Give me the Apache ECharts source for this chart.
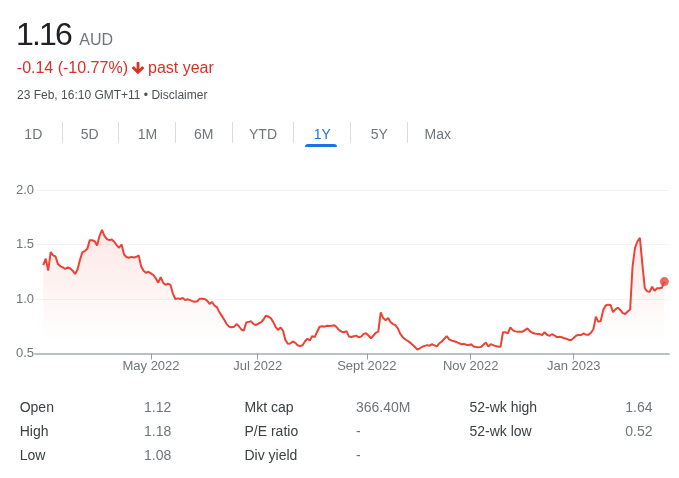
<!DOCTYPE html>
<html>
<head>
<meta charset="utf-8">
<script src="https://cdn.jsdelivr.net/npm/echarts@6/dist/echarts.min.js"></script>
<style>
  html, body { margin:0; padding:0; background:#fff; }
  body { width:679px; height:478px; position:relative; overflow:hidden; font-family: Arial, "Liberation Sans", sans-serif; }
  #chart { position:absolute; left:0; top:0; width:679px; height:478px; }
  .t { position:absolute; white-space:nowrap; line-height:1; }
  .sep { position:absolute; top:122px; width:1px; height:21px; background:#dadce0; }
  .tab { position:absolute; width:50px; text-align:center; font-size:14px; color:#70757a; top:126.5px; line-height:1; }
</style>
</head>
<body>
<div id="chart"></div>

<div class="t" style="left:16px; top:17.9px; font-size:32px; color:#202124; letter-spacing:-1.8px;">1.16</div>
<div class="t" style="left:79.3px; top:32.2px; font-size:16px; color:#70757a;">AUD</div>
<div class="t" style="left:16.8px; top:59.8px; font-size:16px; color:#d93025;">-0.14 (-10.77%)</div>
<svg style="position:absolute; left:130px; top:59.5px;" width="16" height="16" viewBox="0 0 24 24"><path fill="#d93025" d="M20 12l-1.41-1.41L13 16.17V4h-2v12.17l-5.58-5.59L4 12l8 8 8-8z" stroke="#d93025" stroke-width="2.2" stroke-linejoin="round"/></svg>
<div class="t" style="left:148px; top:59.8px; font-size:16px; color:#d93025;">past year</div>
<div class="t" style="left:17px; top:88.8px; font-size:12px; color:#4d5156;">23 Feb, 16:10 GMT+11 • Disclaimer</div>

<div class="tab" style="left:8.3px;">1D</div>
<div class="tab" style="left:64.7px;">5D</div>
<div class="tab" style="left:122.5px;">1M</div>
<div class="tab" style="left:178.8px;">6M</div>
<div class="tab" style="left:238px;">YTD</div>
<div class="tab" style="left:297.2px; color:#1a73e8;">1Y</div>
<div class="tab" style="left:354.2px;">5Y</div>
<div class="tab" style="left:412.8px;">Max</div>
<div class="sep" style="left:61.5px;"></div>
<div class="sep" style="left:118px;"></div>
<div class="sep" style="left:175px;"></div>
<div class="sep" style="left:232px;"></div>
<div class="sep" style="left:293px;"></div>
<div class="sep" style="left:350px;"></div>
<div class="sep" style="left:407px;"></div>
<div style="position:absolute; left:305px; top:144px; width:32px; height:3px; background:#1a73e8; border-radius:3px 3px 0 0;"></div>

<div id="stats"></div>

<script>
// ---- data ----
const prices = [
  1.31, 1.37, 1.26, 1.43, 1.40, 1.39, 1.32, 1.30, 1.29, 1.275,
  1.29, 1.28, 1.26, 1.23, 1.27, 1.36, 1.43, 1.44, 1.46, 1.54,
  1.54, 1.53, 1.49, 1.58, 1.635, 1.58, 1.55, 1.54, 1.545, 1.525,
  1.495, 1.47, 1.50, 1.41, 1.385, 1.378, 1.387, 1.38, 1.385, 1.40,
  1.30, 1.26, 1.24, 1.25, 1.235, 1.22, 1.19, 1.15, 1.20, 1.15,
  1.13, 1.14, 1.13, 1.05, 1.00, 1.006, 1.00, 1.009, 0.99, 0.997,
  0.99, 0.98, 0.975, 0.98, 1.003, 1.003, 1.00, 0.985, 0.955, 0.973,
  0.94, 0.926, 0.88, 0.845, 0.81, 0.77, 0.746, 0.74, 0.745, 0.77,
  0.75, 0.72, 0.71, 0.785, 0.79, 0.795, 0.77, 0.762, 0.775, 0.785,
  0.81, 0.847, 0.84, 0.825, 0.79, 0.745, 0.716, 0.74, 0.71, 0.625,
  0.59, 0.592, 0.61, 0.60, 0.575, 0.568, 0.575, 0.61, 0.635, 0.62,
  0.66, 0.65, 0.70, 0.745, 0.75, 0.746, 0.755, 0.752, 0.755, 0.76,
  0.74, 0.715, 0.70, 0.695, 0.705, 0.655, 0.652, 0.658, 0.664, 0.649,
  0.655, 0.68, 0.685, 0.665, 0.64, 0.665, 0.69, 0.70, 0.878, 0.825,
  0.805, 0.825, 0.79, 0.77, 0.76, 0.731, 0.68, 0.65, 0.63, 0.617,
  0.60, 0.58, 0.56, 0.535, 0.548, 0.562, 0.57, 0.577, 0.572, 0.585,
  0.575, 0.565, 0.594, 0.61, 0.635, 0.66, 0.63, 0.618, 0.612, 0.605,
  0.595, 0.585, 0.588, 0.58, 0.575, 0.585, 0.565, 0.56, 0.558, 0.56,
  0.58, 0.60, 0.565, 0.585, 0.577, 0.568, 0.563, 0.563, 0.695, 0.695,
  0.685, 0.74, 0.715, 0.703, 0.70, 0.70, 0.70, 0.715, 0.73, 0.705,
  0.69, 0.684, 0.68, 0.678, 0.67, 0.695, 0.672, 0.662, 0.677, 0.667,
  0.65, 0.653, 0.65, 0.64, 0.635, 0.625, 0.625, 0.645, 0.665, 0.67,
  0.67, 0.685, 0.672, 0.673, 0.69, 0.725, 0.838, 0.79, 0.80, 0.90,
  0.94, 0.948, 0.945, 0.88, 0.905, 0.92, 0.90, 0.87, 0.862, 0.885,
  0.903, 1.30, 1.47, 1.53, 1.56, 1.32, 1.10, 1.07, 1.067, 1.113,
  1.075, 1.098, 1.098, 1.104, 1.16
];
const tickLabels = ['May 2022', 'Jul 2022', 'Sept 2022', 'Nov 2022', 'Jan 2023'];
const tickIndex = [44.05, 87.7, 132.3, 174.8, 216.9];
const yTicks = [0.5, 1.0, 1.5, 2.0];

const statLabels1 = ['Open', 'High', 'Low'];
const statValues1 = ['1.12', '1.18', '1.08'];
const statLabels2 = ['Mkt cap', 'P/E ratio', 'Div yield'];
const statValues2 = ['366.40M', '-', '-'];
const statLabels3 = ['52-wk high', '52-wk low'];
const statValues3 = ['1.64', '0.52'];

// ---- stats table ----
(function () {
  const box = document.getElementById('stats');
  const rowsTop = [399.7, 423.7, 447.7];
  const cols = [
    [statLabels1, 19.7, '#3c4043'], [statValues1, 144, '#70757a'],
    [statLabels2, 244.5, '#3c4043'], [statValues2, 356, '#70757a'],
    [statLabels3, 469.4, '#3c4043'], [statValues3, 625.3, '#70757a']
  ];
  cols.forEach(([arr, x, color]) => {
    arr.forEach((txt, r) => {
      const d = document.createElement('div');
      d.className = 't';
      d.style.left = x + 'px';
      d.style.top = rowsTop[r] + 'px';
      d.style.fontSize = '14px';
      d.style.color = color;
      d.textContent = txt;
      box.appendChild(d);
    });
  });
})();

// ---- chart ----
const chart = echarts.init(document.getElementById('chart'), null, { renderer: 'canvas' });
const lineData = prices.map((v, i) => [i, v]);
const last = lineData[lineData.length - 1];
const font = 'Arial, "Liberation Sans", sans-serif';

chart.setOption({
  animation: false,
  grid: { left: 35, right: 10, top: 190, height: 163.5 },
  xAxis: {
    type: 'value',
    min: -3.4,
    max: 255.9,
    axisLine: { show: true, onZero: false, lineStyle: { color: '#bdc1c6', width: 2 } },
    axisTick: { show: true, customValues: tickIndex, length: 6, lineStyle: { color: '#9aa0a6', width: 1 } },
    axisLabel: {
      customValues: tickIndex,
      margin: 6,
      fontSize: 13,
      fontFamily: font,
      color: '#70757a',
      formatter: function (v) {
        let best = 0, bd = Infinity;
        tickIndex.forEach((t, k) => { const d = Math.abs(t - v); if (d < bd) { bd = d; best = k; } });
        return tickLabels[best];
      }
    },
    splitLine: { show: false }
  },
  yAxis: {
    type: 'value',
    min: yTicks[0],
    max: yTicks[yTicks.length - 1],
    interval: 0.5,
    axisLine: { show: false },
    axisTick: { show: false },
    axisLabel: {
      margin: 1,
      fontSize: 13,
      fontFamily: font,
      color: '#70757a',
      formatter: v => v.toFixed(1)
    },
    splitLine: { show: true, lineStyle: { color: '#f1f3f4', width: 1 } }
  },
  series: [
    {
      type: 'line',
      data: lineData,
      showSymbol: false,
      symbol: 'none',
      lineStyle: { color: '#ea4335', width: 2 },
      itemStyle: { color: '#ea4335' },
      areaStyle: {
        color: {
          type: 'linear', x: 0, y: 0, x2: 0, y2: 1,
          colorStops: [
            { offset: 0, color: 'rgba(234,67,53,0.18)' },
            { offset: 0.9, color: 'rgba(234,67,53,0)' }
          ]
        }
      },
      z: 2
    },
    {
      type: 'scatter',
      data: [last],
      symbolSize: 9,
      itemStyle: { color: '#ea4335' },
      z: 3
    }
  ]
});
</script>
</body>
</html>
